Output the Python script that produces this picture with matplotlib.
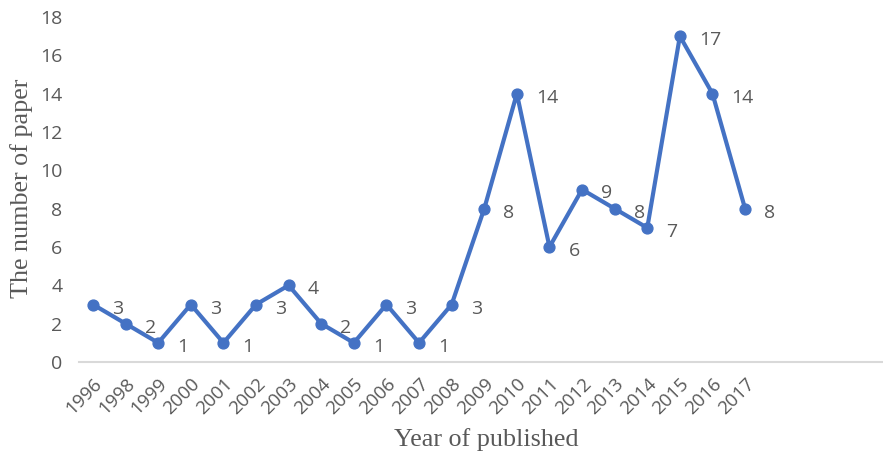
import matplotlib
matplotlib.use("Agg")
import matplotlib.pyplot as plt

years = ["1996", "1998", "1999", "2000", "2001", "2002", "2003", "2004", "2005",
         "2006", "2007", "2008", "2009", "2010", "2011", "2012", "2013", "2014",
         "2015", "2016", "2017"]
papers = [3, 2, 1, 3, 1, 3, 4, 2, 1, 3, 1, 3, 8, 14, 6, 9, 8, 7, 17, 14, 8]
y_ticks = [0, 2, 4, 6, 8, 10, 12, 14, 16, 18]

line_color = "#4472C4"
text_color = "#595959"
tick_font = ["Open Sans", "DejaVu Sans"]
title_font = ["Liberation Serif", "DejaVu Serif"]

fig = plt.figure(figsize=(8.83, 4.58), dpi=100)
ax = fig.add_axes([79 / 883, 1 - 362 / 458, 1 - 79 / 883, (362 - 17) / 458])

x = list(range(len(years)))
ax.plot(x, papers, color=line_color, linewidth=3.0, marker="o",
        markersize=7.8, solid_joinstyle="round", zorder=3)

for xi, v in zip(x, papers):
    ax.annotate(str(v), (xi, v), xytext=(19, -4), textcoords="offset pixels",
                ha="left", va="center", fontsize=14, color=text_color,
                family=tick_font)

ax.set_xlim(-0.43, 24.23)
ax.set_ylim(0, 18)
ax.set_yticks(y_ticks)
ax.set_yticklabels([str(t) for t in y_ticks], family=tick_font, fontsize=14,
                   color=text_color)
ax.set_xticks(x)
ax.set_xticklabels(years, rotation=45, ha="right", va="top",
                   rotation_mode="anchor", family=tick_font, fontsize=13.5,
                   color=text_color)
ax.tick_params(axis="both", length=0)
ax.tick_params(axis="y", pad=12)
ax.tick_params(axis="x", pad=9)

for s in ["top", "right", "left"]:
    ax.spines[s].set_visible(False)
ax.spines["bottom"].set_color("#D9D9D9")
ax.spines["bottom"].set_linewidth(1.5)

fig.text(22 / 883, 1 - 188 / 458, "The number of paper", rotation=90,
         ha="center", va="center", fontsize=18.8, color=text_color,
         family=title_font)
fig.text(486 / 883, 1 - 440 / 458, "Year of published", ha="center",
         va="center", fontsize=18.8, color=text_color, family=title_font)

fig.savefig("out.png", dpi=100)
